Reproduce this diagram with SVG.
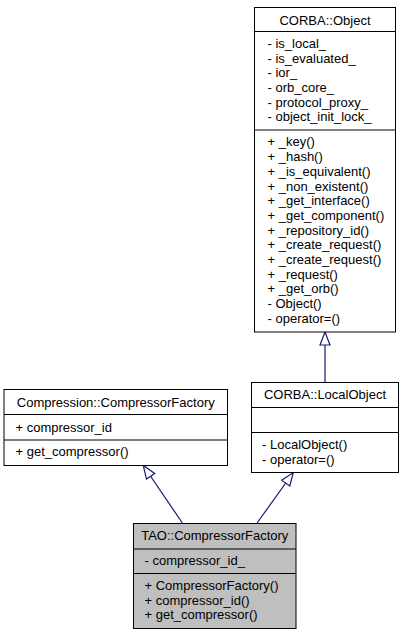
<svg xmlns="http://www.w3.org/2000/svg" width="404" height="635" viewBox="0 0 404 635">
<style>
  text { font-family: "Liberation Sans", Arial, Helvetica, sans-serif; font-size: 13px; fill: #000; }
  .t { text-anchor: middle; }
  .box { fill: #fff; stroke: #000; stroke-width: 1; }
  .cur { fill: #bfbfbf; stroke: #000; stroke-width: 1; }
  .div { stroke: #000; stroke-width: 1; }
  .edge { fill: none; stroke: #191970; stroke-width: 1.2; }
</style>
<defs>
  <marker id="inh" markerUnits="userSpaceOnUse" markerWidth="15" markerHeight="12" refX="13" refY="5.5" orient="auto" viewBox="-1 -0.5 15 12">
    <path d="M0,0.5 L13,5.5 L0,10.5 Z" fill="#fff" stroke="#191970" stroke-width="1.2"/>
  </marker>
</defs>
<rect x="0" y="0" width="404" height="635" fill="#fff"/>

<g id="connectors">
  <path class="edge" d="M325,382.5 L325,332" marker-end="url(#inh)"/>
  <path class="edge" d="M182.7,523.5 L143.3,465.5" marker-end="url(#inh)"/>
  <path class="edge" d="M256.7,523.5 L293.3,472.5" marker-end="url(#inh)"/>
</g>

<g id="corba_object">
  <rect class="box" x="254.5" y="7.5" width="141" height="324.5"/>
  <line class="div" x1="254.5" y1="31.5" x2="395.5" y2="31.5"/>
  <line class="div" x1="254.5" y1="130" x2="395.5" y2="130"/>
  <text class="t" x="325" y="24.5">CORBA::Object</text>
  <text x="267.5" y="47.8">- is_local_</text>
  <text x="267.5" y="62.5">- is_evaluated_</text>
  <text x="267.5" y="77.2">- ior_</text>
  <text x="267.5" y="91.9">- orb_core_</text>
  <text x="267.5" y="106.6">- protocol_proxy_</text>
  <text x="267.5" y="121.3">- object_init_lock_</text>
  <text x="267.5" y="146.4">+ _key()</text>
  <text x="267.5" y="161.1">+ _hash()</text>
  <text x="267.5" y="175.8">+ _is_equivalent()</text>
  <text x="267.5" y="190.5">+ _non_existent()</text>
  <text x="267.5" y="205.2">+ _get_interface()</text>
  <text x="267.5" y="219.9">+ _get_component()</text>
  <text x="267.5" y="234.6">+ _repository_id()</text>
  <text x="267.5" y="249.3">+ _create_request()</text>
  <text x="267.5" y="264">+ _create_request()</text>
  <text x="267.5" y="278.7">+ _request()</text>
  <text x="267.5" y="293.4">+ _get_orb()</text>
  <text x="267.5" y="308.1">- Object()</text>
  <text x="267.5" y="322.8">- operator=()</text>
</g>

<g id="compression_factory">
  <rect class="box" x="4" y="389.5" width="223.5" height="76"/>
  <line class="div" x1="4" y1="414.5" x2="227.5" y2="414.5"/>
  <line class="div" x1="4" y1="440" x2="227.5" y2="440"/>
  <text class="t" x="115.75" y="406.5">Compression::CompressorFactory</text>
  <text x="15.5" y="431.5">+ compressor_id</text>
  <text x="15.5" y="456">+ get_compressor()</text>
</g>

<g id="corba_localobject">
  <rect class="box" x="251.5" y="382.5" width="147" height="90"/>
  <line class="div" x1="251.5" y1="407.5" x2="398.5" y2="407.5"/>
  <line class="div" x1="251.5" y1="432.5" x2="398.5" y2="432.5"/>
  <text class="t" x="325" y="399">CORBA::LocalObject</text>
  <text x="262" y="449">- LocalObject()</text>
  <text x="262" y="463.7">- operator=()</text>
</g>

<g id="tao_compressor_factory">
  <rect class="cur" x="133.5" y="523.5" width="162.5" height="105"/>
  <line class="div" x1="133.5" y1="549" x2="296" y2="549"/>
  <line class="div" x1="133.5" y1="573.5" x2="296" y2="573.5"/>
  <text class="t" x="214.75" y="540">TAO::CompressorFactory</text>
  <text x="144.5" y="565">- compressor_id_</text>
  <text x="144.5" y="590">+ CompressorFactory()</text>
  <text x="144.5" y="604.5">+ compressor_id()</text>
  <text x="144.5" y="619">+ get_compressor()</text>
</g>
</svg>
